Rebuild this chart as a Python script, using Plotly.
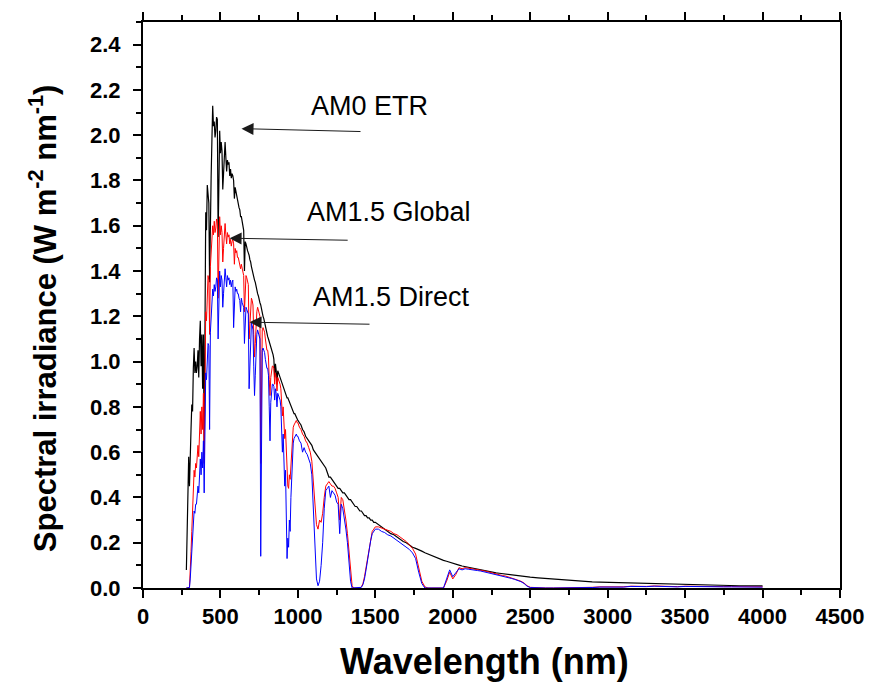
import plotly.graph_objects as go

# Wavelength sampling (nm): fine through UV/visible/NIR, coarser in the IR tail
wl_uv_vis = list(range(280, 1001, 5))
wl_nir_a = list(range(1010, 1501, 10))
wl_nir_b = list(range(1520, 2501, 20))
wl_ir = list(range(2550, 4001, 50))
wavelength = wl_uv_vis + wl_nir_a + wl_nir_b + wl_ir

# AM0 extraterrestrial spectrum (W m^-2 nm^-1)
am0_uv_vis = [
    0.08, 0.25, 0.56, 0.58, 0.45, 0.63, 0.70, 0.81, 0.78, 0.97,
    1.06, 0.95, 1.00, 0.95, 0.98, 1.05, 0.93, 1.10, 1.18, 0.98,
    1.12, 0.88, 1.12, 0.60, 1.55, 1.66, 1.58, 1.78, 1.74, 1.70,
    1.35, 1.74, 1.82, 1.98, 2.13, 2.04, 2.06, 1.99, 2.02, 2.08,
    2.07, 1.55, 1.96, 2.02, 1.92, 1.97, 1.93, 1.76, 1.83, 1.94,
    1.97, 1.90, 1.84, 1.89, 1.87, 1.88, 1.82, 1.85, 1.81, 1.83,
    1.82, 1.80, 1.72, 1.77, 1.75, 1.74, 1.71, 1.70, 1.68, 1.67,
    1.64, 1.64, 1.62, 1.60, 1.58, 1.40, 1.53, 1.52, 1.51, 1.49,
    1.48, 1.47, 1.45, 1.44, 1.42, 1.40, 1.39, 1.37, 1.36, 1.35,
    1.33, 1.31, 1.30, 1.29, 1.27, 1.26, 1.25, 1.23, 1.22, 1.20,
    1.19, 1.17, 1.16, 1.14, 1.13, 1.11, 1.10, 1.09, 1.07, 1.06,
    1.05, 1.04, 1.03, 1.01, 0.93, 0.99, 0.96, 0.90, 0.96, 0.95,
    0.94, 0.93, 0.92, 0.91, 0.90, 0.89, 0.88, 0.87, 0.86, 0.85,
    0.84, 0.84, 0.83, 0.82, 0.81, 0.80, 0.80, 0.79, 0.78, 0.77,
    0.77, 0.76, 0.75, 0.75, 0.74,
]
am0_nir_a = [
    0.73, 0.72, 0.70, 0.69, 0.67, 0.66, 0.65, 0.64, 0.63, 0.61,
    0.60, 0.59, 0.58, 0.57, 0.56, 0.55, 0.54, 0.53, 0.51, 0.49,
    0.49, 0.48, 0.47, 0.46, 0.45, 0.44, 0.44, 0.43, 0.42, 0.42,
    0.41, 0.40, 0.39, 0.39, 0.38, 0.37, 0.36, 0.36, 0.35, 0.34,
    0.34, 0.33, 0.32, 0.32, 0.31, 0.31, 0.30, 0.30, 0.29, 0.29,
]
am0_nir_b = [
    0.28, 0.27, 0.26, 0.25, 0.24, 0.235, 0.225, 0.215, 0.205, 0.20,
    0.19, 0.18, 0.175, 0.17, 0.163, 0.156, 0.150, 0.144, 0.138, 0.133,
    0.127, 0.122, 0.118, 0.113, 0.109, 0.105, 0.101, 0.097, 0.094, 0.091,
    0.088, 0.085, 0.082, 0.079, 0.077, 0.074, 0.072, 0.069, 0.067, 0.065,
    0.063, 0.061, 0.059, 0.057, 0.056, 0.054, 0.052, 0.051, 0.049, 0.048,
]
am0_ir = [
    0.045, 0.042, 0.039, 0.036, 0.033, 0.031, 0.029, 0.027, 0.026, 0.025,
    0.023, 0.022, 0.021, 0.020, 0.019, 0.018, 0.017, 0.016, 0.015, 0.015,
    0.014, 0.013, 0.013, 0.012, 0.011, 0.011, 0.010, 0.010, 0.009, 0.009,
]

# AM1.5 global tilt spectrum
glob_uv_vis = [
    0.0, 0.0, 0.0, 0.0, 0.005, 0.06, 0.16, 0.25, 0.33, 0.42,
    0.52, 0.49, 0.55, 0.53, 0.58, 0.63, 0.58, 0.70, 0.78, 0.68,
    0.80, 0.70, 0.86, 0.55, 1.12, 1.22, 1.18, 1.36, 1.38, 1.36,
    1.12, 1.42, 1.50, 1.58, 1.60, 1.56, 1.62, 1.57, 1.59, 1.63,
    1.62, 1.28, 1.58, 1.64, 1.56, 1.60, 1.57, 1.44, 1.50, 1.57,
    1.61, 1.56, 1.52, 1.57, 1.55, 1.56, 1.52, 1.54, 1.51, 1.53,
    1.54, 1.52, 1.43, 1.50, 1.48, 1.49, 1.46, 1.46, 1.44, 1.43,
    1.41, 1.43, 1.41, 1.39, 1.38, 1.22, 1.37, 1.38, 1.37, 1.35,
    1.34, 1.10, 1.18, 1.26, 1.28, 1.27, 1.25, 1.12, 1.02, 1.08,
    1.18, 1.22, 1.24, 1.23, 1.22, 1.20, 0.55, 0.95, 1.14, 1.15,
    1.14, 1.13, 1.10, 1.07, 1.05, 1.05, 1.02, 0.92, 0.85, 0.93,
    0.97, 0.98, 0.98, 0.97, 0.90, 0.95, 0.93, 0.87, 0.93, 0.92,
    0.91, 0.90, 0.88, 0.82, 0.76, 0.80, 0.72, 0.66, 0.70, 0.58,
    0.48, 0.45, 0.44, 0.50, 0.48, 0.55, 0.62, 0.68, 0.71, 0.72,
    0.73, 0.74, 0.74, 0.73, 0.73,
]
glob_nir_a = [
    0.71, 0.70, 0.68, 0.67, 0.65, 0.64, 0.62, 0.60, 0.56, 0.45,
    0.35, 0.28, 0.26, 0.30, 0.29, 0.33, 0.40, 0.45, 0.46, 0.47,
    0.46, 0.45, 0.45, 0.44, 0.42, 0.40, 0.30, 0.40, 0.39, 0.35,
    0.30, 0.24, 0.15, 0.06, 0.01, 0.0, 0.0, 0.0, 0.0, 0.0,
    0.005, 0.02, 0.05, 0.09, 0.14, 0.18, 0.22, 0.25, 0.26, 0.27,
]
glob_nir_b = [
    0.27, 0.265, 0.26, 0.255, 0.25, 0.24, 0.235, 0.225, 0.215, 0.205,
    0.19, 0.175, 0.15, 0.09, 0.03, 0.005, 0.0, 0.0, 0.0, 0.0,
    0.0, 0.0, 0.03, 0.07, 0.04, 0.06, 0.09, 0.085, 0.09, 0.088,
    0.087, 0.085, 0.082, 0.079, 0.076, 0.073, 0.069, 0.066, 0.063, 0.059,
    0.055, 0.053, 0.048, 0.044, 0.040, 0.036, 0.030, 0.022, 0.010, 0.003,
]
glob_ir = [
    0.0, 0.0, 0.0, 0.0, 0.0, 0.0, 0.001, 0.003, 0.005, 0.004,
    0.006, 0.005, 0.008, 0.006, 0.007, 0.009, 0.007, 0.008, 0.006, 0.008,
    0.007, 0.007, 0.006, 0.007, 0.006, 0.006, 0.005, 0.006, 0.005, 0.005,
]

# AM1.5 direct + circumsolar spectrum
dir_uv_vis = [
    0.0, 0.0, 0.0, 0.0, 0.002, 0.04, 0.10, 0.17, 0.22, 0.28,
    0.34, 0.33, 0.37, 0.37, 0.41, 0.45, 0.42, 0.51, 0.57, 0.50,
    0.60, 0.53, 0.65, 0.42, 0.86, 0.95, 0.92, 1.06, 1.08, 1.07,
    0.70, 1.13, 1.20, 1.27, 1.32, 1.29, 1.34, 1.31, 1.33, 1.37,
    1.36, 1.10, 1.34, 1.40, 1.33, 1.38, 1.36, 1.24, 1.30, 1.36,
    1.41, 1.37, 1.33, 1.38, 1.36, 1.37, 1.34, 1.36, 1.33, 1.35,
    1.36, 1.15, 1.27, 1.33, 1.31, 1.32, 1.30, 1.30, 1.28, 1.27,
    1.22, 1.28, 1.26, 1.25, 1.24, 1.08, 1.23, 1.24, 1.23, 1.22,
    1.21, 0.88, 1.02, 1.14, 1.17, 1.16, 1.14, 0.98, 0.85, 0.94,
    1.07, 1.12, 1.14, 1.13, 1.12, 1.10, 0.14, 0.70, 1.05, 1.06,
    1.05, 1.04, 1.01, 0.98, 0.97, 0.97, 0.94, 0.80, 0.65, 0.82,
    0.89, 0.90, 0.90, 0.89, 0.83, 0.88, 0.86, 0.80, 0.86, 0.85,
    0.84, 0.83, 0.80, 0.70, 0.60, 0.68, 0.55, 0.45, 0.52, 0.35,
    0.13, 0.22, 0.18, 0.30, 0.25, 0.40, 0.50, 0.58, 0.64, 0.66,
    0.67, 0.68, 0.68, 0.67, 0.67,
]
dir_nir_a = [
    0.65, 0.64, 0.60, 0.62, 0.60, 0.59, 0.57, 0.55, 0.50, 0.35,
    0.15, 0.04, 0.01, 0.03, 0.10, 0.20, 0.35, 0.43, 0.44, 0.45,
    0.40, 0.43, 0.42, 0.41, 0.38, 0.37, 0.24, 0.37, 0.35, 0.31,
    0.26, 0.20, 0.10, 0.03, 0.0, 0.0, 0.0, 0.0, 0.0, 0.0,
    0.003, 0.015, 0.04, 0.08, 0.13, 0.17, 0.21, 0.24, 0.25, 0.26,
]
dir_nir_b = [
    0.26, 0.25, 0.245, 0.235, 0.23, 0.22, 0.21, 0.20, 0.19, 0.18,
    0.17, 0.155, 0.13, 0.07, 0.02, 0.0, 0.0, 0.0, 0.0, 0.0,
    0.0, 0.0, 0.04, 0.08, 0.05, 0.07, 0.085, 0.08, 0.085, 0.083,
    0.082, 0.080, 0.077, 0.075, 0.072, 0.069, 0.066, 0.062, 0.059, 0.056,
    0.052, 0.050, 0.045, 0.042, 0.038, 0.034, 0.028, 0.020, 0.008, 0.002,
]
dir_ir = [
    0.0, 0.0, 0.0, 0.0, 0.0, 0.0, 0.001, 0.002, 0.004, 0.003,
    0.005, 0.004, 0.007, 0.005, 0.006, 0.008, 0.006, 0.007, 0.005, 0.007,
    0.006, 0.006, 0.005, 0.006, 0.005, 0.005, 0.004, 0.005, 0.004, 0.004,
]

am0 = am0_uv_vis + am0_nir_a + am0_nir_b + am0_ir
am15_global = glob_uv_vis + glob_nir_a + glob_nir_b + glob_ir
am15_direct = dir_uv_vis + dir_nir_a + dir_nir_b + dir_ir

series = [
    ("AM0 ETR", am0, "#000000", 1.2),
    ("AM1.5 Global", am15_global, "#ff0000", 1.0),
    ("AM1.5 Direct", am15_direct, "#0000ff", 1.0),
]

fig = go.Figure()
for name, vals, color, lw in series:
    fig.add_trace(go.Scatter(
        x=wavelength, y=vals, mode="lines", name=name,
        line=dict(color=color, width=lw), showlegend=False,
    ))

# Curve labels, each with an arrow pointing at its spectrum:
# (text, text x, text y, arrow tip x, tip y, arrow tail x, tail y)
labels = [
    ("AM0 ETR", 1070, 2.130, 636, 2.029, 1414, 2.016),
    ("AM1.5 Global", 1045, 1.660, 559, 1.545, 1331, 1.536),
    ("AM1.5 Direct", 1082, 1.287, 688, 1.174, 1472, 1.165),
]
annotations = []
for text, tx, ty, hx, hy, sx, sy in labels:
    annotations.append(dict(
        x=tx, y=ty, xref="x", yref="y", text=text, showarrow=False,
        xanchor="left", yanchor="middle",
        font=dict(family="Liberation Sans, Arial, sans-serif", size=27, color="#000000"),
    ))
    annotations.append(dict(
        x=hx, y=hy, ax=sx, ay=sy, xref="x", yref="y", axref="x", ayref="y",
        text="", showarrow=True, arrowhead=2, arrowsize=2.4, arrowwidth=1,
        arrowcolor="#1a1a1a", standoff=0,
    ))

annotations.append(dict(
    x=0.49, y=-0.129, xref="paper", yref="paper", showarrow=False,
    text="<b>Wavelength (nm)</b>", xanchor="center", yanchor="middle",
    font=dict(family="Liberation Sans, Arial, sans-serif", size=36, color="#000000"),
))
annotations.append(dict(
    x=-0.144, y=0.476, xref="paper", yref="paper", showarrow=False,
    text="<b>Spectral irradiance (W m<sup>-2</sup> nm<sup>-1</sup>)</b>",
    textangle=-90, xanchor="center", yanchor="middle",
    font=dict(family="Liberation Sans, Arial, sans-serif", size=31, color="#000000"),
))

tick_font = dict(family="Liberation Sans Narrow, Arial Narrow, Liberation Sans, Arial, sans-serif",
                 size=22, color="#000000", weight="bold")

fig.update_layout(
    width=876, height=688,
    margin=dict(l=143, r=33, t=15, b=100),
    paper_bgcolor="white", plot_bgcolor="white",
    annotations=annotations,
    xaxis=dict(
        range=[0, 4500], dtick=500, tick0=0,
        showgrid=False, zeroline=False,
        showline=True, linecolor="#000000", linewidth=2, mirror="ticks",
        ticks="outside", ticklen=8, tickwidth=2, tickcolor="#000000",
        minor=dict(dtick=250, ticks="outside", ticklen=5, tickwidth=2, tickcolor="#000000", showgrid=False),
        tickfont=tick_font,
    ),
    yaxis=dict(
        range=[0, 2.5], dtick=0.2, tick0=0, tickformat=".1f",
        showgrid=False, zeroline=False,
        showline=True, linecolor="#000000", linewidth=2, mirror=True,
        ticks="outside", ticklen=8, tickwidth=2, tickcolor="#000000",
        minor=dict(dtick=0.1, ticks="outside", ticklen=5, tickwidth=2, tickcolor="#000000", showgrid=False),
        tickfont=tick_font, ticklabelstandoff=8,
    ),
)

fig.write_html("out.html")
